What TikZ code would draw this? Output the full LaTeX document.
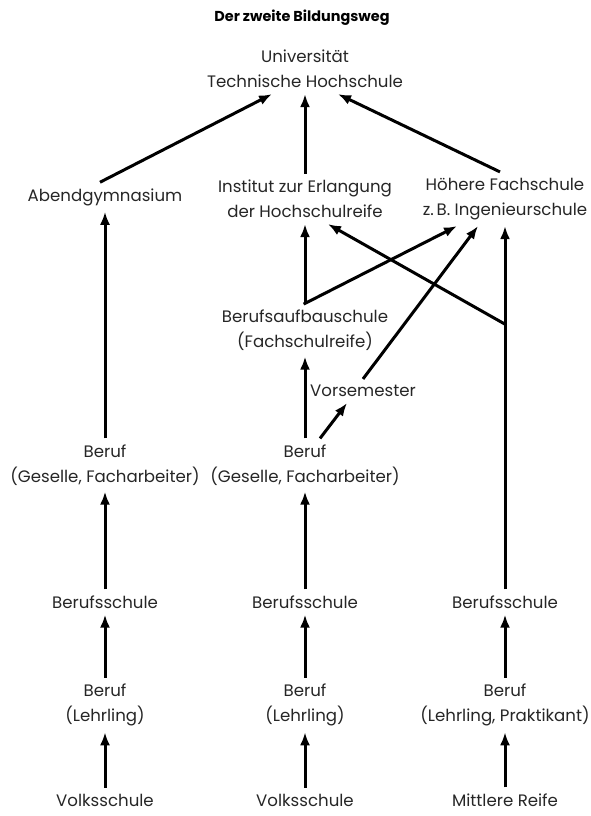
\documentclass[tikz,border=0pt]{standalone}
\usepackage{fontspec}
\setmainfont{Poppins}
\usepackage{tikz}
\usetikzlibrary{arrows.meta,calc}
\tikzset{
    stage-box/.style = {align=center, inner sep=6pt, text=black!85, font=\fontsize{16.6}{25}\selectfont},
    title-box/.style = {font=\fontsize{14.4}{16}\selectfont\bfseries},
    up-arrow/.style = {line width=3pt, -{Latex[length=13pt,width=10pt]}},
}

\begin{document}
\begin{tikzpicture}[x=1pt,y=1pt]
\useasboundingbox (0,0) rectangle (591,-816);
\node [title-box] (title) at (302,-18) {Der zweite Bildungsweg};
\node [stage-box] (uni) at (305,-69) {Universität\\Technische Hochschule};

\node [stage-box] (abend) at (105,-197) {Abendgymnasium};
\node [stage-box] (inst) at (305,-199) {Institut zur Erlangung\\der Hochschulreife};
\node [stage-box] (hfs) at (505,-199) {Höhere Fachschule\\z.\,B. Ingenieurschule};

\node [stage-box] (bas) at (305,-330) {Berufsaufbauschule\\(Fachschulreife)};
\node [stage-box] (vorsem) at (363,-391) {Vorsemester};

\node [stage-box] (beruf1) at (105,-465) {Beruf\\(Geselle, Facharbeiter)};
\node [stage-box] (beruf2) at (305,-465) {Beruf\\(Geselle, Facharbeiter)};

\node [stage-box] (bs1) at (105,-602) {Berufsschule};
\node [stage-box] (bs2) at (305,-602) {Berufsschule};
\node [stage-box] (bs3) at (505,-602) {Berufsschule};

\node [stage-box] (lehr1) at (105,-705) {Beruf\\(Lehrling)};
\node [stage-box] (lehr2) at (305,-705) {Beruf\\(Lehrling)};
\node [stage-box] (lehr3) at (505,-705) {Beruf\\(Lehrling, Praktikant)};

\node [stage-box] (volk1) at (105,-800) {Volksschule};
\node [stage-box] (volk2) at (305,-800) {Volksschule};
\node [stage-box] (mreife) at (505,-800) {Mittlere Reife};

% bottom rows
\draw [up-arrow] (volk1) -- (lehr1);
\draw [up-arrow] (volk2) -- (lehr2);
\draw [up-arrow] (mreife) -- (lehr3);
\draw [up-arrow] (lehr1) -- (bs1);
\draw [up-arrow] (lehr2) -- (bs2);
\draw [up-arrow] (lehr3) -- (bs3);
\draw [up-arrow] (bs1) -- (beruf1);
\draw [up-arrow] (bs2) -- (beruf2);

% middle part
\coordinate (vjoin) at (bas.north);
\coordinate (xjoin) at ($(bs3.north)!0.73!(hfs.south)$);
\draw [up-arrow] (beruf1) -- (abend);
\draw [up-arrow] (beruf2) -- (bas);
\draw [up-arrow] ($(beruf2.north)+(15,0)$) -- ($(vorsem.south)+(-16,0)$);
\draw [up-arrow] ($(vorsem.north)+(0,0)$) -- ($(hfs.south)+(-27,0)$);
\draw [up-arrow] (vjoin) -- (inst.south);
\draw [up-arrow, shorten <=-1.5pt] (vjoin) -- ($(hfs.south)+(-48,0)$);
\draw [up-arrow] (bs3) -- (hfs);
\draw [up-arrow] (xjoin) -- ($(inst.south)+(23,0)$);

% top
\draw [up-arrow] ($(abend.north)+(-5,0)$) -- ($(uni.south)+(-33,0)$);
\draw [up-arrow] (inst) -- (uni);
\draw [up-arrow] ($(hfs.north)+(-5,0)$) -- ($(uni.south)+(33,0)$);
\end{tikzpicture}
\end{document}
